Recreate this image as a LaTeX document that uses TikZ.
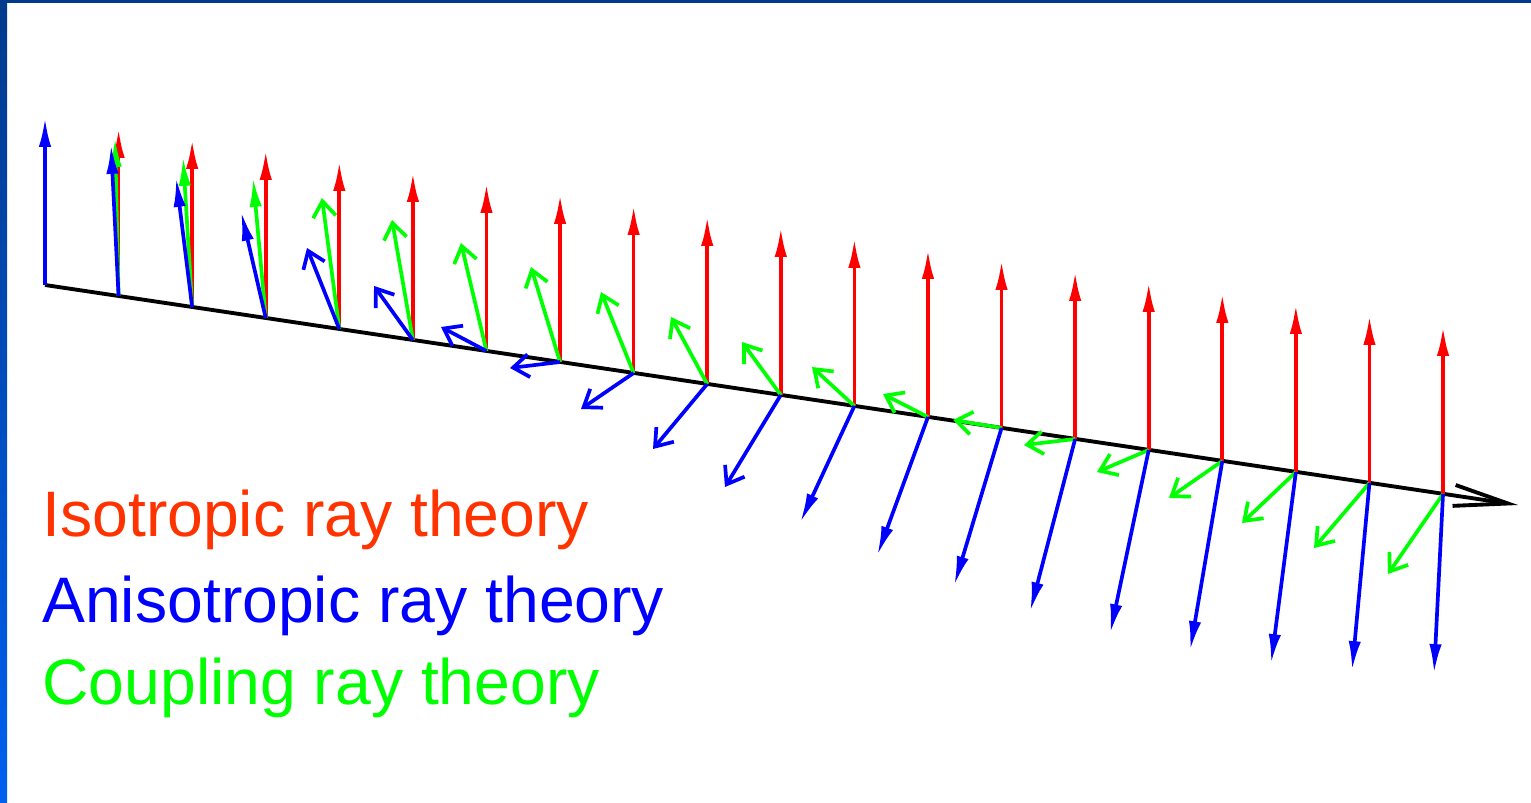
\documentclass[tikz,border=0pt]{standalone}
\usepackage{fontspec}
\setmainfont{Liberation Sans}
\usepackage{tikz}
\usetikzlibrary{arrows.meta}
\definecolor{isored}{RGB}{255,51,0}
\definecolor{rayred}{RGB}{255,0,0}
\definecolor{rayblue}{RGB}{0,0,255}
\definecolor{raygreen}{RGB}{0,255,0}
\definecolor{framedark}{RGB}{0,58,140}
\definecolor{framelight}{RGB}{0,96,240}

\begin{document}
\begin{tikzpicture}[
    x=0.02cm, y=-0.02cm,
    vec/.style={line width=2.1pt},
    solidhead/.style={-{Latex[length=17pt,width=7pt]}},
    openhead/.style={-{Straight Barb[length=9pt,width=13pt,line width=2.1pt]}},
    legend/.style={anchor=base west, inner sep=0pt, font=\fontsize{36.6}{44}\selectfont},
  ]
  \useasboundingbox (0,0) rectangle (1531,803);

  % Frame
  \fill[framedark] (0,0) rectangle (1531,3);
  \shade[top color=framedark, bottom color=framelight] (0,0) rectangle (7,803);

  % Points on the ray
  \foreach \i in {0,...,19} {
    \pgfmathsetmacro{\px}{45+73.58*\i}
    \pgfmathsetmacro{\py}{285+11.0*\i}
    \pgfmathsetmacro{\ry}{\py-168}
    \coordinate (p\i) at (\px,\py);
    \coordinate (r\i) at (\px,\ry);
  }
  \coordinate (xend) at (1518,505);

  % Anisotropic tips
  \foreach \tx/\ty [count=\i from 0] in {45/117, 111/144, 176/177, 241/211,
      307/248, 374/286, 441/327, 510/368, 581/409, 653/449, 725/487,
      800/523, 877/556, 954/586, 1030/612, 1110/634, 1190/651, 1271/664,
      1352/671, 1434/674} {
    \coordinate (a\i) at (\tx,\ty);
  }
  % Coupling tips
  \foreach \tx/\ty [count=\i from 1] in {115/137, 183/156, 253/177, 322/198,
      392/220, 461/243, 531/267, 601/292, 671/317, 742/342, 812/367,
      883/394, 953/420, 1024/445, 1097/472, 1169/498, 1242/523, 1314/548,
      1388/574} {
    \coordinate (c\i) at (\tx,\ty);
  }

  % Ray
  \draw[line width=2.2pt, -{Straight Barb[length=31pt,width=12pt,line width=2.2pt]}]
    (p0) -- (xend);

  % Isotropic
  \foreach \i in {1,...,19}
    \draw[vec, rayred, solidhead] (p\i) -- (r\i);

  % Coupling
  \foreach \i in {1,...,3}
    \draw[vec, raygreen, solidhead] (p\i) -- (c\i);
  \foreach \i in {4,...,19}
    \draw[vec, raygreen, openhead] (p\i) -- (c\i);

  % Anisotropic
  \foreach \i in {0,...,3}
    \draw[vec, rayblue, solidhead] (p\i) -- (a\i);
  \foreach \i in {4,...,10}
    \draw[vec, rayblue, openhead] (p\i) -- (a\i);
  \foreach \i in {11,...,19}
    \draw[vec, rayblue, solidhead] (p\i) -- (a\i);

  % Legend
  \node[legend, text=isored] (iso) at (42,537) {Isotropic ray theory};
  \node[legend, text=rayblue] (aniso) at (42,622) {Anisotropic ray theory};
  \node[legend, text=raygreen] (coup) at (42,704) {Coupling ray theory};

\end{tikzpicture}
\end{document}
